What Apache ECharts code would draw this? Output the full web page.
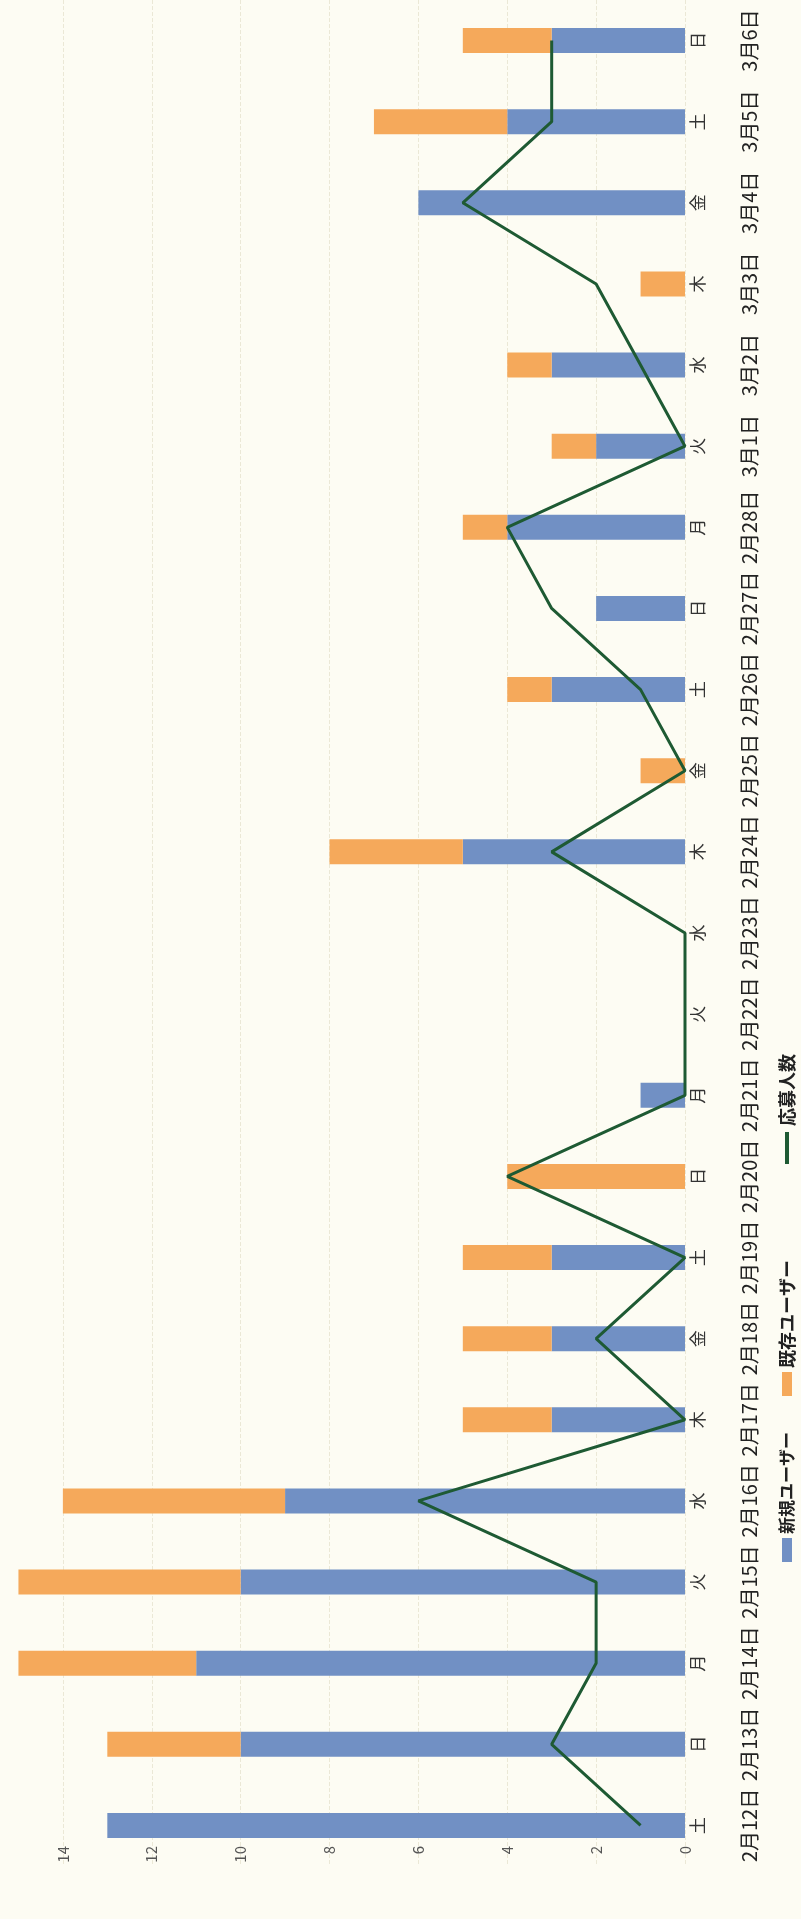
<!DOCTYPE html>
<html>
<head>
<meta charset="utf-8">
<script src="https://cdn.jsdelivr.net/npm/echarts@6/dist/echarts.min.js"></script>
<style>
html,body{margin:0;padding:0;background:#fdfcf3;}
#c{width:801px;height:1919px;}
</style>
</head>
<body>
<div id="c"></div>
<script>
const categories = ['2月12日','2月13日','2月14日','2月15日','2月16日','2月17日','2月18日','2月19日','2月20日','2月21日','2月22日','2月23日','2月24日','2月25日','2月26日','2月27日','2月28日','3月1日','3月2日','3月3日','3月4日','3月5日','3月6日'];
const weekdays = ['土','日','月','火','水','木','金','土','日','月','火','水','木','金','土','日','月','火','水','木','金','土','日'];
const newUsers = [13,10,11,10,9,3,3,3,0,1,0,0,5,0,3,2,4,2,3,0,6,4,3];
const existingUsers = [0,3,4,5,5,2,2,2,4,0,0,0,3,1,1,0,1,1,1,1,0,3,2];
const applicants = [1,3,2,2,6,0,2,0,4,0,0,0,3,0,1,3,4,0,1,2,5,3,3];
const valueAxis = {min: 0, max: 16, interval: 2, lastLabel: 14};

const BLUE = '#7190c4';
const ORANGE = '#f5a95b';
const GREEN = '#1e5a33';
const FONT = '"Noto Sans CJK JP", "Noto Sans", sans-serif';

const chart = echarts.init(document.getElementById('c'));
const option = {
  backgroundColor: '#fdfcf3',
  animation: false,
  grid: {left: -26, right: 116, top: 0, bottom: 53, containLabel: false, outerBoundsMode: 'none'},
  xAxis: {
    type: 'value', inverse: true, position: 'bottom',
    min: valueAxis.min, max: valueAxis.max, interval: valueAxis.interval,
    axisLine: {show: false}, axisTick: {show: false},
    axisLabel: {rotate: 90, color: '#555', fontSize: 15, fontFamily: FONT, margin: -20,
      formatter: v => v > valueAxis.lastLabel ? '' : String(v)},
    splitLine: {show: true, lineStyle: {color: '#ebe8d6', type: 'dashed', width: 1}}
  },
  yAxis: {
    type: 'category', data: categories, position: 'right',
    axisLine: {show: false}, axisTick: {show: false},
    axisLabel: {
      rotate: 90, margin: -2, interval: 0,
      formatter: (v, i) => '{w|' + weekdays[i] + '}\n{d|' + v + '}',
      rich: {
        w: {fontSize: 17, lineHeight: 30, color: '#333', fontFamily: FONT},
        d: {fontSize: 20, lineHeight: 72, color: '#222', fontFamily: FONT}
      }
    }
  },
  series: [
    {name: '新規ユーザー', type: 'bar', stack: 'users', data: newUsers, barWidth: 25,
      itemStyle: {color: BLUE}},
    {name: '既存ユーザー', type: 'bar', stack: 'users', data: existingUsers, barWidth: 25,
      itemStyle: {color: ORANGE}},
    {name: '応募人数', type: 'line', data: applicants, symbol: 'none', z: 5,
      lineStyle: {color: GREEN, width: 3}}
  ],
  graphic: [{
    type: 'group', x: 787, y: 1562, rotation: Math.PI / 2,
    children: [
      {type: 'rect', shape: {x: 0, y: -5, width: 24, height: 10}, style: {fill: BLUE}},
      {type: 'text', x: 28, y: 0, style: {text: '新規ユーザー', font: 'bold 17px ' + FONT, fill: '#222', textVerticalAlign: 'middle'}},
      {type: 'rect', shape: {x: 166, y: -5, width: 24, height: 10}, style: {fill: ORANGE}},
      {type: 'text', x: 194, y: 0, style: {text: '既存ユーザー', font: 'bold 18px ' + FONT, fill: '#222', textVerticalAlign: 'middle'}},
      {type: 'rect', shape: {x: 398, y: -2, width: 32, height: 4}, style: {fill: GREEN}},
      {type: 'text', x: 436, y: 0, style: {text: '応募人数', font: 'bold 18px ' + FONT, fill: '#222', textVerticalAlign: 'middle'}}
    ]
  }]
};
chart.setOption(option);
</script>
</body>
</html>
